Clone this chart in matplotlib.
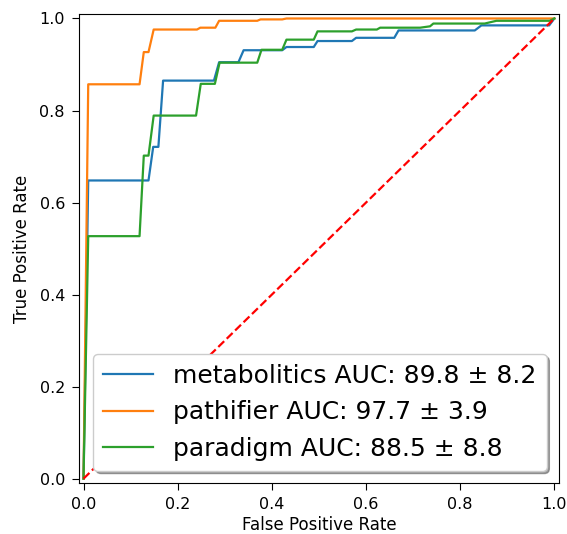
import matplotlib
matplotlib.use("Agg")
import matplotlib.pyplot as plt

# ROC curves (fpr, tpr)
metabolitics_fpr = [0, 0.01, 0.138, 0.148, 0.159, 0.169, 0.277, 0.288, 0.329, 0.340, 0.422, 0.431,
                    0.489, 0.497, 0.570, 0.579, 0.660, 0.669, 0.831, 0.845, 0.989, 1.0]
metabolitics_tpr = [0, 0.648, 0.648, 0.721, 0.721, 0.865, 0.865, 0.905, 0.905, 0.931, 0.931, 0.938,
                    0.938, 0.951, 0.951, 0.958, 0.958, 0.974, 0.974, 0.985, 0.985, 1.0]

pathifier_fpr = [0, 0.01, 0.119, 0.128, 0.138, 0.149, 0.241, 0.248, 0.280, 0.288, 0.369, 0.376,
                 0.422, 0.431, 1.0]
pathifier_tpr = [0, 0.857, 0.857, 0.927, 0.927, 0.976, 0.976, 0.980, 0.980, 0.995, 0.995, 0.998,
                 0.998, 1.0, 1.0]

paradigm_fpr = [0, 0.01, 0.119, 0.128, 0.138, 0.149, 0.239, 0.249, 0.279, 0.289, 0.369, 0.378,
                0.422, 0.431, 0.489, 0.497, 0.570, 0.579, 0.623, 0.630, 0.715, 0.736, 0.743,
                0.852, 0.877, 0.99, 1.0]
paradigm_tpr = [0, 0.527, 0.527, 0.702, 0.702, 0.789, 0.789, 0.858, 0.858, 0.904, 0.904, 0.932,
                0.932, 0.954, 0.954, 0.972, 0.972, 0.976, 0.976, 0.980, 0.980, 0.983, 0.989,
                0.989, 0.995, 0.995, 1.0]

labels = ["metabolitics AUC: 89.8 \u00b1 8.2",
          "pathifier AUC: 97.7 \u00b1 3.9",
          "paradigm AUC: 88.5 \u00b1 8.8"]

fig = plt.figure(figsize=(5.67, 5.34), dpi=100)
fig.subplots_adjust(left=0.139, right=0.986, top=0.974, bottom=0.095)
ax = fig.add_subplot(111)

ax.plot(metabolitics_fpr, metabolitics_tpr, color="#1f77b4", lw=1.6, label=labels[0])
ax.plot(pathifier_fpr, pathifier_tpr, color="#ff7f0e", lw=1.6, label=labels[1])
ax.plot(paradigm_fpr, paradigm_tpr, color="#2ca02c", lw=1.6, label=labels[2])
ax.plot([0, 1], [0, 1], "r--", lw=1.6)

ax.set_xlim([-0.01, 1.01])
ax.set_ylim([-0.01, 1.01])
ax.tick_params(labelsize=11.5, length=5, pad=5)
ax.set_xlabel("False Positive Rate", fontsize=12, labelpad=3)
ax.set_ylabel("True Positive Rate", fontsize=12, labelpad=6)
ax.legend(loc="lower right", fontsize=18, shadow=True, fancybox=True)

fig.savefig("out.png", dpi=100)
